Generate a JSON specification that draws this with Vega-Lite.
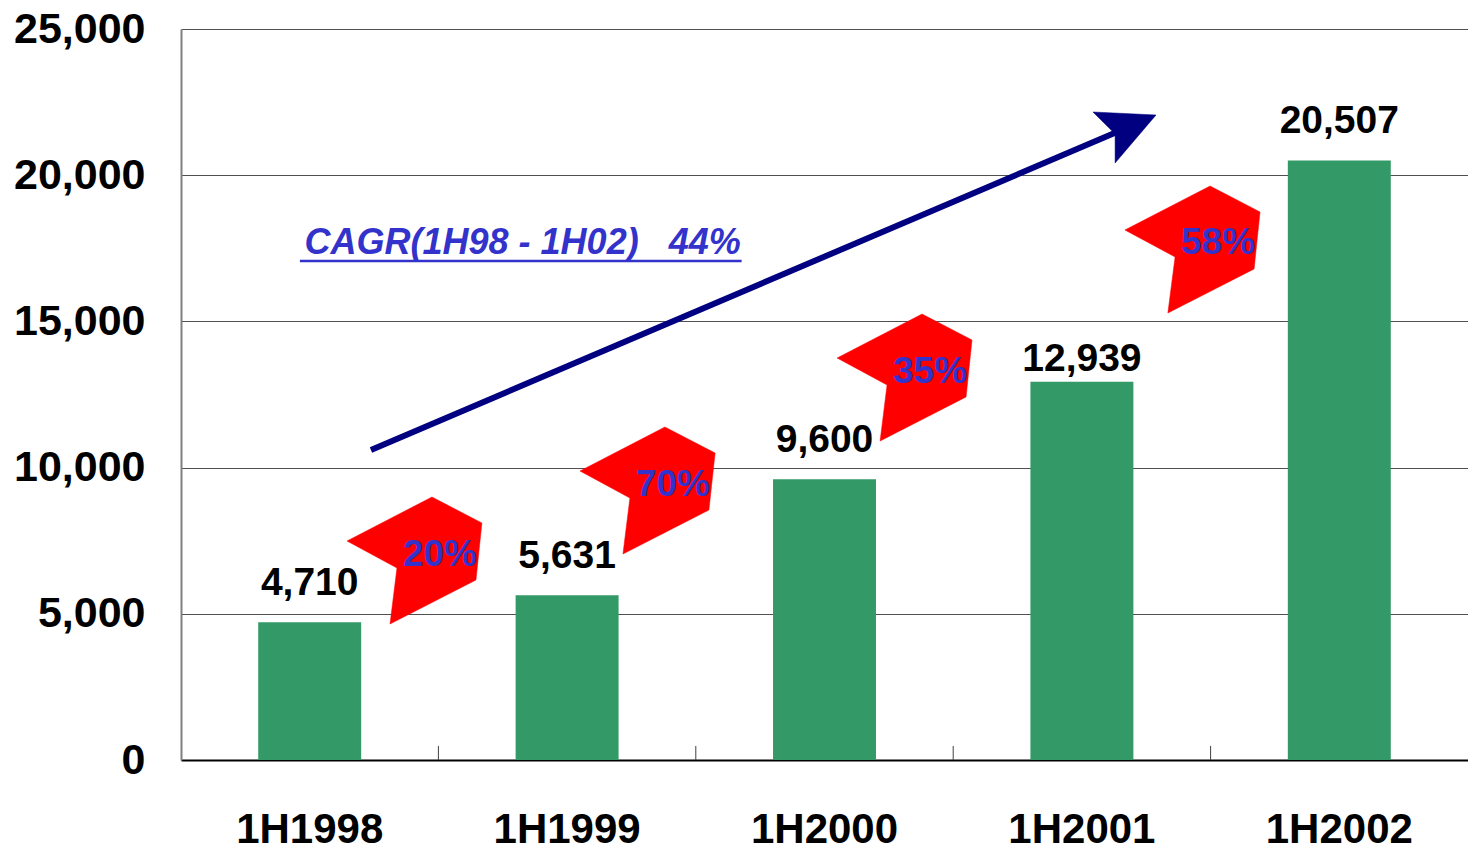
{
  "$schema": "https://vega.github.io/schema/vega-lite/v6.json",
  "width": 1287,
  "height": 731,
  "autosize": {"type": "none"},
  "padding": {"left": 181, "top": 29, "right": 0, "bottom": 90},
  "background": "white",
  "config": {"view": {"stroke": null}, "font": "Liberation Sans"},
  "datasets": {
    "bars": [
      {"period": "1H1998", "value": 4710},
      {"period": "1H1999", "value": 5631},
      {"period": "1H2000", "value": 9600},
      {"period": "1H2001", "value": 12939},
      {"period": "1H2002", "value": 20507}
    ],
    "badges": [
      {"badge": "20%", "ord": 1, "x": 0.645, "value": 7490},
      {"badge": "20%", "ord": 2, "x": 0.975, "value": 8995},
      {"badge": "20%", "ord": 3, "x": 1.169, "value": 8105},
      {"badge": "20%", "ord": 4, "x": 1.146, "value": 6156},
      {"badge": "20%", "ord": 5, "x": 0.812, "value": 4651},
      {"badge": "20%", "ord": 6, "x": 0.839, "value": 6566},
      {"badge": "70%", "ord": 1, "x": 1.550, "value": 9884},
      {"badge": "70%", "ord": 2, "x": 1.880, "value": 11389},
      {"badge": "70%", "ord": 3, "x": 2.075, "value": 10499},
      {"badge": "70%", "ord": 4, "x": 2.051, "value": 8550},
      {"badge": "70%", "ord": 5, "x": 1.717, "value": 7045},
      {"badge": "70%", "ord": 6, "x": 1.744, "value": 8960},
      {"badge": "35%", "ord": 1, "x": 2.549, "value": 13748},
      {"badge": "35%", "ord": 2, "x": 2.879, "value": 15253},
      {"badge": "35%", "ord": 3, "x": 3.073, "value": 14364},
      {"badge": "35%", "ord": 4, "x": 3.050, "value": 12415},
      {"badge": "35%", "ord": 5, "x": 2.716, "value": 10910},
      {"badge": "35%", "ord": 6, "x": 2.743, "value": 12825},
      {"badge": "58%", "ord": 1, "x": 3.667, "value": 18126},
      {"badge": "58%", "ord": 2, "x": 3.998, "value": 19631},
      {"badge": "58%", "ord": 3, "x": 4.192, "value": 18742},
      {"badge": "58%", "ord": 4, "x": 4.169, "value": 16792},
      {"badge": "58%", "ord": 5, "x": 3.834, "value": 15287},
      {"badge": "58%", "ord": 6, "x": 3.862, "value": 17203}
    ],
    "pct": [
      {"t": "20%", "x": 1.006, "value": 6635},
      {"t": "70%", "x": 1.911, "value": 9029},
      {"t": "35%", "x": 2.910, "value": 12893},
      {"t": "58%", "x": 4.029, "value": 17305}
    ],
    "shaft": [
      {"ord": 1, "x": 0.738, "value": 10602},
      {"ord": 2, "x": 3.636, "value": 21478}
    ],
    "head": [
      {"ord": 1, "x": 3.788, "value": 22059},
      {"ord": 2, "x": 3.543, "value": 22162},
      {"ord": 3, "x": 3.629, "value": 21409},
      {"ord": 4, "x": 3.629, "value": 20417}
    ],
    "cagr": [
      {"t": "CAGR(1H98 - 1H02)\u00a0\u00a0\u00a044%", "x": 0.480, "value": 17305}
    ],
    "uline": [
      {"x": 0.462, "x2": 2.178, "value": 17066}
    ],
    "ticks": [
      {"x": 1, "value": 0, "v2": 480},
      {"x": 2, "value": 0, "v2": 480},
      {"x": 3, "value": 0, "v2": 480},
      {"x": 4, "value": 0, "v2": 480}
    ]
  },
  "encoding": {
    "y": {
      "field": "value", "type": "quantitative",
      "scale": {"domain": [0, 25000], "nice": false},
      "axis": {
        "title": null, "values": [0, 5000, 10000, 15000, 20000, 25000],
        "labelExpr": "format(datum.value, ',')",
        "labelFont": "Liberation Sans", "labelFontWeight": "bold", "labelFontSize": 43,
        "labelColor": "black", "labelPadding": 36, "ticks": false,
        "domainColor": "#808080", "domainWidth": 2,
        "grid": true, "gridColor": "#505050", "gridWidth": 1
      }
    }
  },
  "resolve": {"scale": {"x": "independent"}},
  "layer": [
    {
      "data": {"name": "bars"},
      "encoding": {
        "x": {
          "field": "period", "type": "nominal", "sort": null,
          "scale": {"paddingInner": 0.6, "paddingOuter": 0.3},
          "axis": {
            "title": null, "labelAngle": 0, "labelFont": "Liberation Sans", "labelFontWeight": "bold",
            "labelFontSize": 42, "labelColor": "black", "labelPadding": 49,
            "ticks": false, "tickSize": 0,
            "domainColor": "black", "domainWidth": 2
          }
        }
      },
      "layer": [
        {"mark": {"type": "bar", "color": "#339966"}},
        {
          "transform": [{"filter": "datum.value != 12939"}],
          "mark": {"type": "text", "baseline": "alphabetic", "dy": -27, "font": "Liberation Sans", "fontWeight": "bold", "fontSize": 39, "color": "black"},
          "encoding": {"text": {"field": "value", "type": "quantitative", "format": ","}}
        },
        {
          "transform": [{"filter": "datum.value == 12939"}],
          "mark": {"type": "text", "baseline": "alphabetic", "dy": -11, "font": "Liberation Sans", "fontWeight": "bold", "fontSize": 39, "color": "black"},
          "encoding": {"text": {"field": "value", "type": "quantitative", "format": ","}}
        }
      ]
    },
    {
      "encoding": {
        "x": {"field": "x", "type": "quantitative", "scale": {"domain": [0, 5], "nice": false, "zero": false}, "axis": null}
      },
      "layer": [
        {
          "data": {"name": "ticks"},
          "mark": {"type": "rule", "color": "#404040", "strokeWidth": 1},
          "encoding": {"y2": {"field": "v2"}}
        },
        {
          "data": {"name": "badges"},
          "mark": {"type": "line", "fill": "#ff0000", "stroke": "#ff0000", "strokeWidth": 0.5, "interpolate": "linear-closed"},
          "encoding": {
            "detail": {"field": "badge"},
            "order": {"field": "ord", "type": "quantitative"}
          }
        },
        {
          "data": {"name": "pct"},
          "mark": {"type": "text", "baseline": "alphabetic", "align": "center", "font": "Liberation Sans", "fontWeight": "bold", "fontSize": 37, "color": "#3333cc"},
          "encoding": {"text": {"field": "t"}}
        },
        {
          "data": {"name": "shaft"},
          "mark": {"type": "line", "color": "#000080", "strokeWidth": 6},
          "encoding": {"order": {"field": "ord", "type": "quantitative"}}
        },
        {
          "data": {"name": "head"},
          "mark": {"type": "line", "fill": "#000080", "stroke": "#000080", "strokeWidth": 0.5, "interpolate": "linear-closed"},
          "encoding": {"order": {"field": "ord", "type": "quantitative"}}
        },
        {
          "data": {"name": "cagr"},
          "mark": {"type": "text", "baseline": "alphabetic", "align": "left", "font": "Liberation Sans", "fontWeight": "bold", "fontStyle": "italic", "fontSize": 36, "color": "#3333cc"},
          "encoding": {"text": {"field": "t"}}
        },
        {
          "data": {"name": "uline"},
          "mark": {"type": "rule", "color": "#3333cc", "strokeWidth": 2.5},
          "encoding": {"x2": {"field": "x2"}}
        }
      ]
    }
  ]
}
